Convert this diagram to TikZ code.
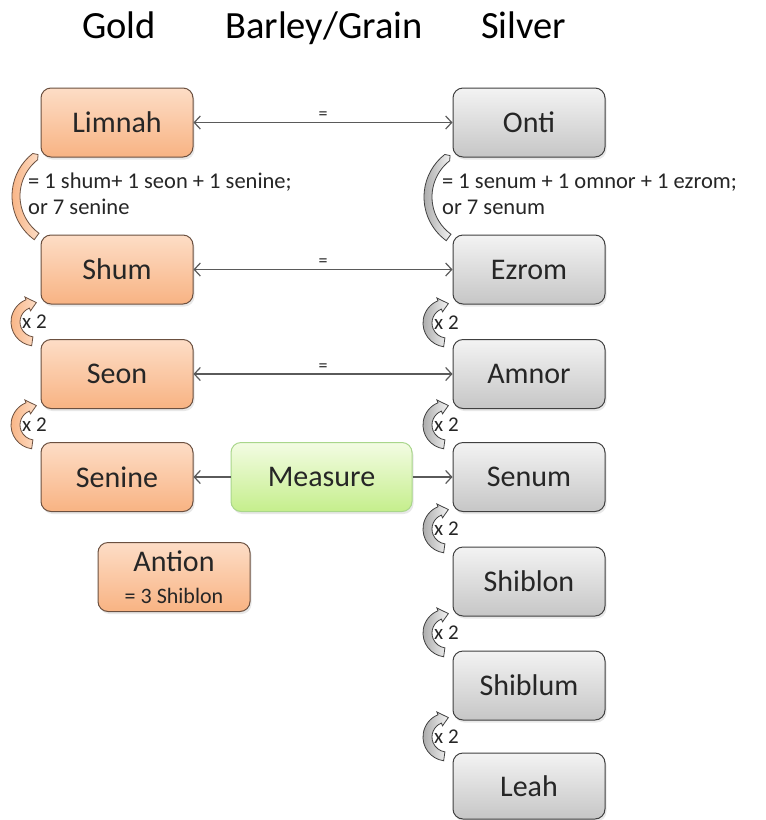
\documentclass[tikz,border=0pt]{standalone}
\usepackage{fontspec}
\setmainfont{Carlito}
\usetikzlibrary{arrows.meta,shadows}
\definecolor{orTop}{HTML}{FDDDC6}
\definecolor{orBot}{HTML}{F8B383}
\definecolor{orLine}{HTML}{6B5040}
\definecolor{grTop}{HTML}{F3F3F3}
\definecolor{grBot}{HTML}{C6C6C6}
\definecolor{grLine}{HTML}{404040}
\definecolor{gnTop}{HTML}{F3FCE3}
\definecolor{gnBot}{HTML}{C5EE8C}
\definecolor{gnLine}{HTML}{A9D68B}
\definecolor{arrowgray}{HTML}{5A5A5A}
\definecolor{txt}{HTML}{262626}
\tikzset{
  boxbase/.style={rounded corners=10pt, minimum width=152pt, minimum height=69pt,
    inner sep=0pt, line width=1pt, text=txt, font=\fontsize{30}{36}\selectfont,
    drop shadow={opacity=0.18, shadow xshift=1.5pt, shadow yshift=-2.5pt}},
  goldbox/.style={boxbase, draw=orLine, top color=orTop, bottom color=orBot},
  silverbox/.style={boxbase, draw=grLine, top color=grTop, bottom color=grBot},
  grainbox/.style={boxbase, draw=gnLine, top color=gnTop, bottom color=gnBot},
  link/.style={draw=arrowgray, line width=1.2pt, -{Straight Barb[length=6pt,width=13pt]}},
  duallink/.style={draw=arrowgray, line width=1.2pt, {Straight Barb[length=6pt,width=13pt]}-{Straight Barb[length=6pt,width=13pt]}},
  eqlabel/.style={font=\fontsize{18}{20}\selectfont, text=txt, inner sep=0pt},
  header/.style={font=\fontsize{38.5}{42}\selectfont, anchor=base west, inner sep=0pt,
    text=black},
  note/.style={font=\fontsize{22.5}{26}\selectfont, text=txt, anchor=west, align=left, inner sep=0pt},
  twicetext/.style={font=\fontsize{21}{24}\selectfont, text=txt, anchor=west, inner sep=0pt},
  orcurl/.style={draw=orLine, line width=0.8pt, left color=orBot, right color=orTop},
  grcurl/.style={draw=grLine, line width=0.8pt, left color=grBot!85!black, right color=grTop},
  twice/.pic={
    \path[pic actions] (262:24pt) arc[start angle=262, end angle=112, radius=24pt]
      -- (112:27pt) -- (86:19.5pt) -- (112:12pt) -- (112:15pt)
      arc[start angle=112, end angle=262, radius=15pt] -- cycle;
  },
  bigcurl/.pic={
    \path[pic actions] (234:54pt) arc[start angle=234, end angle=128, radius=54pt]
      -- (124:50pt) -- (128:46pt)
      arc[start angle=128, end angle=234, radius=46pt] -- cycle;
  }
}
\begin{document}
\begin{tikzpicture}[x=1pt,y=1pt]
\useasboundingbox (0,0) rectangle (766,-820);
\fill[white] (0,0) rectangle (766,-820);

% headers
\node[header] (hgold)   at (82,-38)  {Gold};
\node[header] (hgrain)  at (225,-38) {Barley/Grain};
\node[header] (hsilver) at (481,-38) {Silver};

% gold column
\node[goldbox] (limnah) at (117,-122.5) {Limnah};
\node[goldbox] (shum)   at (117,-269.5) {Shum};
\node[goldbox] (seon)   at (117,-374) {Seon};
\node[goldbox] (senine) at (117,-477) {Senine};
\node[goldbox, align=center] (antion) at (174,-577)
  {Antion\\[-4pt]{\fontsize{22}{24}\selectfont = 3 Shiblon}};

% silver column
\node[silverbox] (onti)    at (529,-122.5) {Onti};
\node[silverbox] (ezrom)   at (529,-269.5) {Ezrom};
\node[silverbox] (amnor)   at (529,-374) {Amnor};
\node[silverbox] (senum)   at (529,-477) {Senum};
\node[silverbox] (shiblon) at (529,-581.5) {Shiblon};
\node[silverbox] (shiblum) at (529,-685.5) {Shiblum};
\node[silverbox, minimum height=66pt] (leah) at (529,-786) {Leah};

% grain
\node[grainbox, minimum width=181pt] (measure) at (321.5,-477) {Measure};

% connectors
\draw[duallink] (limnah) -- (onti) node[eqlabel, midway, above=2pt] (eq1) {=};
\draw[duallink] (shum) -- (ezrom) node[eqlabel, midway, above=2pt] (eq2) {=};
\draw[duallink] (seon) -- (amnor) node[eqlabel, midway, above=2pt] (eq3) {=};
\draw[link] (measure) -- (senine);
\draw[link] (measure) -- (senum);

% big curls and notes
\pic[orcurl] at (66,-196) {bigcurl};
\pic[grcurl] at (478,-197) {bigcurl};
\node[note] (noteL) at (28,-194) {= 1 shum+ 1 seon + 1 senine;\\or 7 senine};
\node[note] (noteR) at (442,-194) {= 1 senum + 1 omnor + 1 ezrom;\\or 7 senum};

% x 2 curls
\foreach \y/\n in {322/a,425/b}{
  \pic[orcurl] at (35,-\y) {twice};
  \node[twicetext] (lx\n) at (22,-\y) {x 2};
}
\foreach \y/\n in {323/a,425/b,529/c,633/d,737/e}{
  \pic[grcurl] at (447,-\y) {twice};
  \node[twicetext] (rx\n) at (434,-\y) {x 2};
}
\end{tikzpicture}
\end{document}
